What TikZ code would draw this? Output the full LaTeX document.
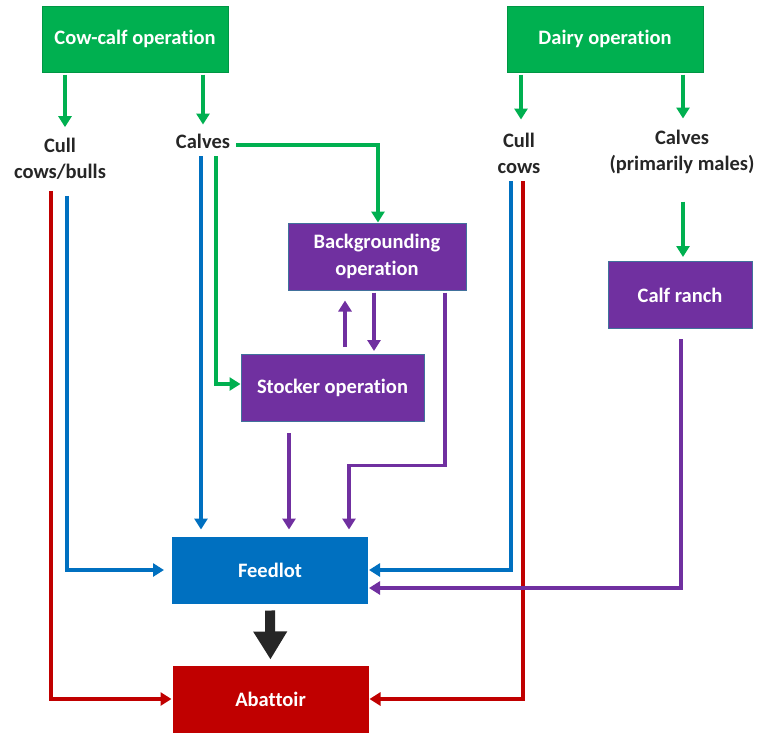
\documentclass[tikz,border=0pt]{standalone}
\usepackage{fontspec}
\setmainfont{Carlito}[Ligatures=NoCommon]
\usetikzlibrary{positioning,calc,arrows.meta}
\definecolor{opgreen}{HTML}{00B050}
\definecolor{opmauve}{HTML}{7030A0}
\definecolor{opblue}{HTML}{0070C0}
\definecolor{opred}{HTML}{C00000}
\definecolor{opedge}{HTML}{41719C}
\tikzset{
  opbox/.style    = {shape=rectangle, draw, align=center, line width=1pt,
                     text=white, font=\bfseries\fontsize{20.5}{27}\selectfont,
                     },
  source/.style   = {opbox, fill=opgreen, draw=opgreen!85!black, minimum height=66pt},
  stage/.style    = {opbox, fill=opmauve, draw=opedge, minimum height=67pt},
  feed/.style     = {opbox, fill=opblue, draw=opblue, minimum height=66pt},
  kill/.style     = {opbox, fill=opred, draw=opred, minimum height=66pt},
  herd/.style     = {align=center, inner sep=0pt, text=black!85,
                     font=\bfseries\fontsize{20.5}{26}\selectfont},
  flow/.style     = {line width=3.5pt, -{Triangle[length=11pt,width=13pt]}},
  bigflow/.style  = {line width=10pt, -{Triangle[length=28pt,width=32pt]}}
}

\begin{document}
\begin{tikzpicture}[x=1pt, y=-1pt]
  \useasboundingbox (0,0) rectangle (760,732);
  \node [source, minimum width=186pt] (cowcalf)    at (135,39)    {Cow-calf operation};
  \node [source, minimum width=196pt] (dairy)      at (605,39)    {Dairy operation};
  \node [stage,  minimum width=178pt] (backgr)     at (377,256.5) {Backgrounding\\operation};
  \node [stage,  minimum width=183pt] (stocker)    at (332.5,388) {Stocker operation};
  \node [stage,  minimum width=144pt] (calfranch)  at (680,295)   {Calf ranch};
  \node [feed,   minimum width=195pt] (feedlot)    at (270,570)   {Feedlot};
  \node [kill,   minimum width=195pt] (abattoir)   at (270.5,699) {Abattoir};
  \node [herd] (cullbulls)   at (60,159)    {Cull\\cows/bulls};
  \node [herd] (calves)      at (203,141)   {Calves};
  \node [herd] (cullcows)    at (519,153)   {Cull\\cows};
  \node [herd] (dairycalves) at (682,151.5) {Calves\\(primarily males)};

  \draw [flow, opgreen, shorten >=11pt] ($(cowcalf.south)+(-70,2)$) -- ($(cowcalf.south |- cullbulls.north)+(-70,0)$);
  \draw [flow, opgreen, shorten >=9pt] ($(cowcalf.south)+(68,2)$) -- ($(cowcalf.south |- calves.north)+(68,0)$);
  \draw [flow, opgreen, shorten >=13pt] ($(dairy.south)+(-84,2)$) -- ($(dairy.south |- cullcows.north)+(-84,0)$);
  \draw [flow, opgreen, shorten >=11pt] ($(dairy.south)+(78,2)$) -- ($(dairy.south |- dairycalves.north)+(78,0)$);

  \draw [flow, opgreen] ($(calves.east)+(6,4)$) -| ($(backgr.north)+(1,0)$);
  \draw [flow, opgreen] ($(calves.south)+(13,8)$) |- ($(stocker.west)+(0,-4)$);
  \draw [flow, opblue, shorten >=7pt] ($(calves.south)+(-2,8)$) -- ($(calves.south |- feedlot.north)+(-2,0)$);
  \draw [flow, opgreen, shorten >=4pt] ($(dairycalves.south)+(1,28)$) -- ($(dairycalves.south |- calfranch.north)+(1,0)$);

  \draw [flow, opblue, shorten >=8pt] ($(cullbulls.south)+(7,16)$) |- (feedlot.west);
  \draw [flow, opred, shorten >=1pt] ($(cullbulls.south)+(-9,11)$) |- (abattoir.west);
  \draw [flow, opblue, shorten >=1pt] ($(cullcows.south)+(-8,8)$) |- (feedlot.east);
  \draw [flow, opred, shorten >=1pt] ($(cullcows.south)+(4,8)$) |- (abattoir.east);

  \draw [flow, opmauve, shorten <=7pt, shorten >=10pt] ($(backgr.south |- stocker.north)+(-32,0)$) -- ($(backgr.south)+(-32,0)$);
  \draw [flow, opmauve, shorten <=2pt, shorten >=3pt] ($(backgr.south)+(-3,0)$) -- ($(backgr.south |- stocker.north)+(-3,0)$);
  \draw [flow, opmauve, shorten <=11pt, shorten >=7pt] ($(stocker.south)+(-43.5,0)$) -- ($(stocker.south |- feedlot.north)+(-43.5,0)$);
  \draw [flow, opmauve, shorten >=7pt] ($(backgr.south)+(68,2)$) -- ++(0,173) -| ($(feedlot.north)+(79,0)$);
  \draw [flow, opmauve, shorten >=1pt] ($(calfranch.south)+(1,10)$) |- ($(feedlot.east)+(0,18)$);

  \draw [bigflow, black!85, shorten <=7pt, shorten >=6pt] (feedlot.south) -- (abattoir.north);
\end{tikzpicture}
\end{document}
